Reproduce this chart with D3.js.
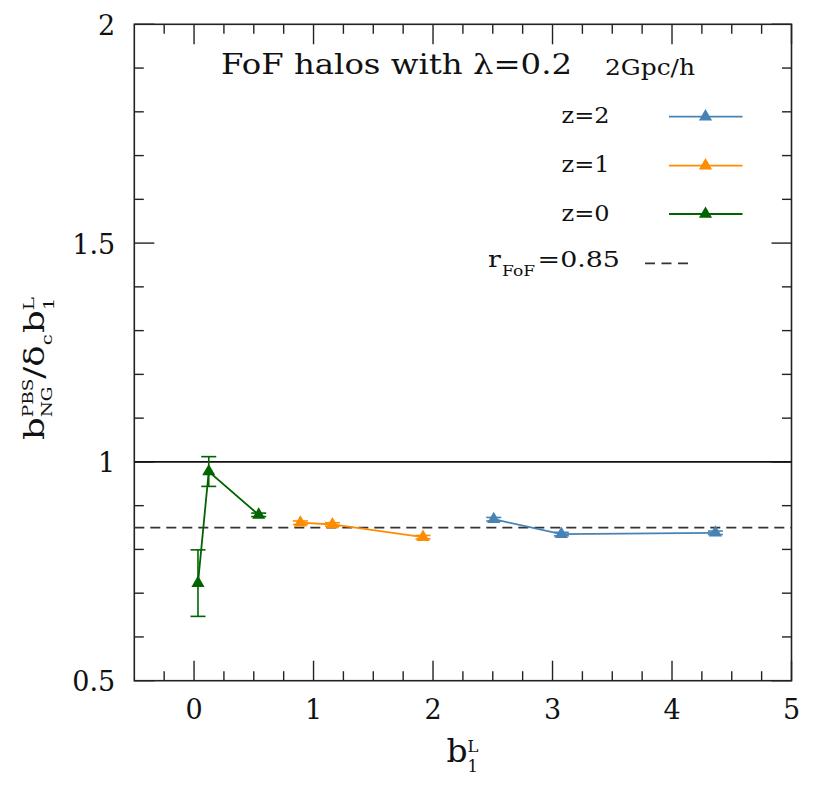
<!DOCTYPE html>
<html>
<head>
<meta charset="utf-8">
<script src="https://cdn.jsdelivr.net/npm/d3@7"></script>
<style>
  body { margin: 0; background: #fff; }
  svg text { font-family: "DejaVu Serif", serif; fill: #111; }
</style>
</head>
<body>
<svg id="chart" width="813" height="786"></svg>
<script>
// data
const z0_x = [0.033, 0.123, 0.541];
const z0_y = [0.723, 0.978, 0.879];
const z0_err = [0.076, 0.034, 0.004];

const z1_x = [0.890, 1.158, 1.916];
const z1_y = [0.861, 0.857, 0.828];
const z1_err = [0.004, 0.004, 0.004];

const z2_x = [2.508, 3.074, 4.363];
const z2_y = [0.869, 0.835, 0.838];
const z2_err = [0.004, 0.004, 0.004];

const xTicks = [0, 1, 2, 3, 4, 5];
const yTicks = [0.5, 1, 1.5, 2];
const rFoF = 0.85;

const series = [
  {label: "z=2", color: "#4682b4", xs: z2_x, ys: z2_y, es: z2_err},
  {label: "z=1", color: "#ff8c00", xs: z1_x, ys: z1_y, es: z1_err},
  {label: "z=0", color: "#006400", xs: z0_x, ys: z0_y, es: z0_err}
];

const svg = d3.select('#chart');
const margin = {top: 24.3, right: 21.5, bottom: 105.3, left: 134.3};
const width = 813 - margin.left - margin.right;
const height = 786 - margin.top - margin.bottom;

const g = svg.append('g').attr('transform', 'translate(' + margin.left + ',' + margin.top + ')');

const x = d3.scaleLinear().domain([-0.5, 5]).range([0, width]);
const y = d3.scaleLinear().domain([0.5, 2]).range([height, 0]);

// minor ticks every 0.25 on x and 0.1 on y
const xMinor = d3.range(-0.25, 5, 0.25).filter(v => Math.abs(v - Math.round(v)) > 1e-6);
const yMinor = d3.range(0.6, 2, 0.1).filter(v => Math.abs(v * 2 - Math.round(v * 2)) > 1e-6);

// ticks point inward on all four sides
const tickG = g.append('g').attr('stroke', '#222').attr('stroke-width', 1.4);
const majLen = 20, minLen = 9.5;
xTicks.concat(xMinor).forEach(v => {
  const len = xTicks.includes(v) ? majLen : minLen;
  tickG.append('line').attr('x1', x(v)).attr('x2', x(v)).attr('y1', height).attr('y2', height - len);
  tickG.append('line').attr('x1', x(v)).attr('x2', x(v)).attr('y1', 0).attr('y2', len);
});
yTicks.concat(yMinor).forEach(v => {
  const len = yTicks.includes(v) ? majLen : minLen;
  tickG.append('line').attr('y1', y(v)).attr('y2', y(v)).attr('x1', 0).attr('x2', len);
  tickG.append('line').attr('y1', y(v)).attr('y2', y(v)).attr('x1', width).attr('x2', width - len);
});

g.append('rect').attr('width', width).attr('height', height)
  .attr('fill', 'none').attr('stroke', '#222').attr('stroke-width', 1.6);

// tick labels
g.selectAll('.xlab').data(xTicks).enter().append('text')
  .attr('x', d => x(d)).attr('y', height + 38.5)
  .attr('text-anchor', 'middle').attr('font-size', 27).text(d => d);
g.selectAll('.ylab').data(yTicks).enter().append('text')
  .attr('x', -19).attr('y', d => y(d) + 10.5)
  .attr('text-anchor', 'end').attr('font-size', 27).text(d => d);

// reference lines
g.append('line').attr('x1', 0).attr('x2', width).attr('y1', y(1)).attr('y2', y(1))
  .attr('stroke', '#111').attr('stroke-width', 1.6);
g.append('line').attr('x1', 0).attr('x2', width).attr('y1', y(rFoF)).attr('y2', y(rFoF))
  .attr('stroke', '#333').attr('stroke-width', 1.8).attr('stroke-dasharray', '10,6');

// series
const tri = d3.symbol().type(d3.symbolTriangle).size(75);
series.forEach(s => {
  const pts = s.xs.map((v, i) => ({x: v, y: s.ys[i], e: s.es[i]}));
  const sg = g.append('g');
  sg.append('path').datum(pts)
    .attr('d', d3.line().x(d => x(d.x)).y(d => y(d.y)))
    .attr('fill', 'none').attr('stroke', s.color).attr('stroke-width', 1.8);
  const eb = sg.selectAll('.eb').data(pts).enter().append('g')
    .attr('stroke', s.color).attr('stroke-width', 1.6);
  eb.append('line').attr('x1', d => x(d.x)).attr('x2', d => x(d.x))
    .attr('y1', d => y(d.y - d.e)).attr('y2', d => y(d.y + d.e));
  eb.append('line').attr('x1', d => x(d.x) - 7.5).attr('x2', d => x(d.x) + 7.5)
    .attr('y1', d => y(d.y - d.e)).attr('y2', d => y(d.y - d.e));
  eb.append('line').attr('x1', d => x(d.x) - 7.5).attr('x2', d => x(d.x) + 7.5)
    .attr('y1', d => y(d.y + d.e)).attr('y2', d => y(d.y + d.e));
  sg.selectAll('.pt').data(pts).enter().append('path')
    .attr('d', tri).attr('fill', s.color)
    .attr('transform', d => 'translate(' + x(d.x) + ',' + y(d.y) + ')');
});

// rich text helper: parts laid out left to right, "stack" parts share x with the previous one
function rich(parent, parts) {
  const t = parent.append('g');
  const inner = t.append('g');
  let cx = 0, prevStart = 0, prevW = 0;
  parts.forEach(p => {
    const start = p.stack ? prevStart : cx;
    const el = inner.append('text').attr('x', start).attr('y', p.shift || 0)
      .attr('font-size', p.size).text(p.t);
    const w = el.node().getComputedTextLength();
    if (p.stack) {
      cx = prevStart + Math.max(prevW, w);
    } else {
      cx = start + w;
      prevStart = start; prevW = w;
    }
    cx += p.gap || 0;
  });
  return {g: t, inner: inner, width: cx};
}
// stretch horizontally to the wide lettering of the original
function stretch(r, target) {
  const sx = target / r.width;
  r.inner.attr('transform', 'scale(' + sx + ',1)');
  r.width = target;
  return r;
}

// x-axis title
const xt = stretch(rich(svg, [
  {t: 'b', size: 32},
  {t: 'L', size: 16, shift: -10},
  {t: '1', size: 16, shift: 10, stack: true}
]), 32);
xt.g.attr('transform', 'translate(446.5,761.5)');

// y-axis title
const ytl = stretch(rich(svg, [
  {t: 'b', size: 27},
  {t: 'PBS', size: 14, shift: -11},
  {t: 'NG', size: 14, shift: 8, stack: true},
  {t: '/', size: 27},
  {t: 'δ', size: 27},
  {t: 'c', size: 15, shift: 8, gap: 1},
  {t: 'b', size: 27},
  {t: 'L', size: 15, shift: -10},
  {t: '1', size: 15, shift: 9.5, stack: true}
]), 143);
ytl.g.attr('transform', 'translate(44,' + (368.5 + ytl.width / 2) + ') rotate(-90)');

// legend
svg.append('text').attr('x', 221).attr('y', 74).attr('font-size', 28)
  .attr('textLength', 351).attr('lengthAdjust', 'spacingAndGlyphs')
  .text('FoF halos with λ=0.2');
svg.append('text').attr('x', 605).attr('y', 75).attr('font-size', 22)
  .attr('textLength', 90).attr('lengthAdjust', 'spacingAndGlyphs')
  .text('2Gpc/h');

const legY = [116.7, 165.7, 214];
series.forEach((s, i) => {
  svg.append('text').attr('x', 561.5).attr('y', legY[i] + 6.5).attr('font-size', 22)
    .attr('textLength', 48).attr('lengthAdjust', 'spacingAndGlyphs').text(s.label);
  svg.append('line').attr('x1', 669).attr('x2', 742.5).attr('y1', legY[i]).attr('y2', legY[i])
    .attr('stroke', s.color).attr('stroke-width', 1.8);
  svg.append('path').attr('d', tri).attr('fill', s.color)
    .attr('transform', 'translate(705.5,' + legY[i] + ')');
});

const rl = stretch(rich(svg, [
  {t: 'r', size: 22, gap: 1},
  {t: 'FoF', size: 14, shift: 9.5, gap: 2},
  {t: '=0.85', size: 22}
]), 132);
rl.g.attr('transform', 'translate(488,266.5)');
svg.append('line').attr('x1', 645).attr('x2', 692).attr('y1', 263.3).attr('y2', 263.3)
  .attr('stroke', '#333').attr('stroke-width', 1.8).attr('stroke-dasharray', '10,6.5');
</script>
</body>
</html>
